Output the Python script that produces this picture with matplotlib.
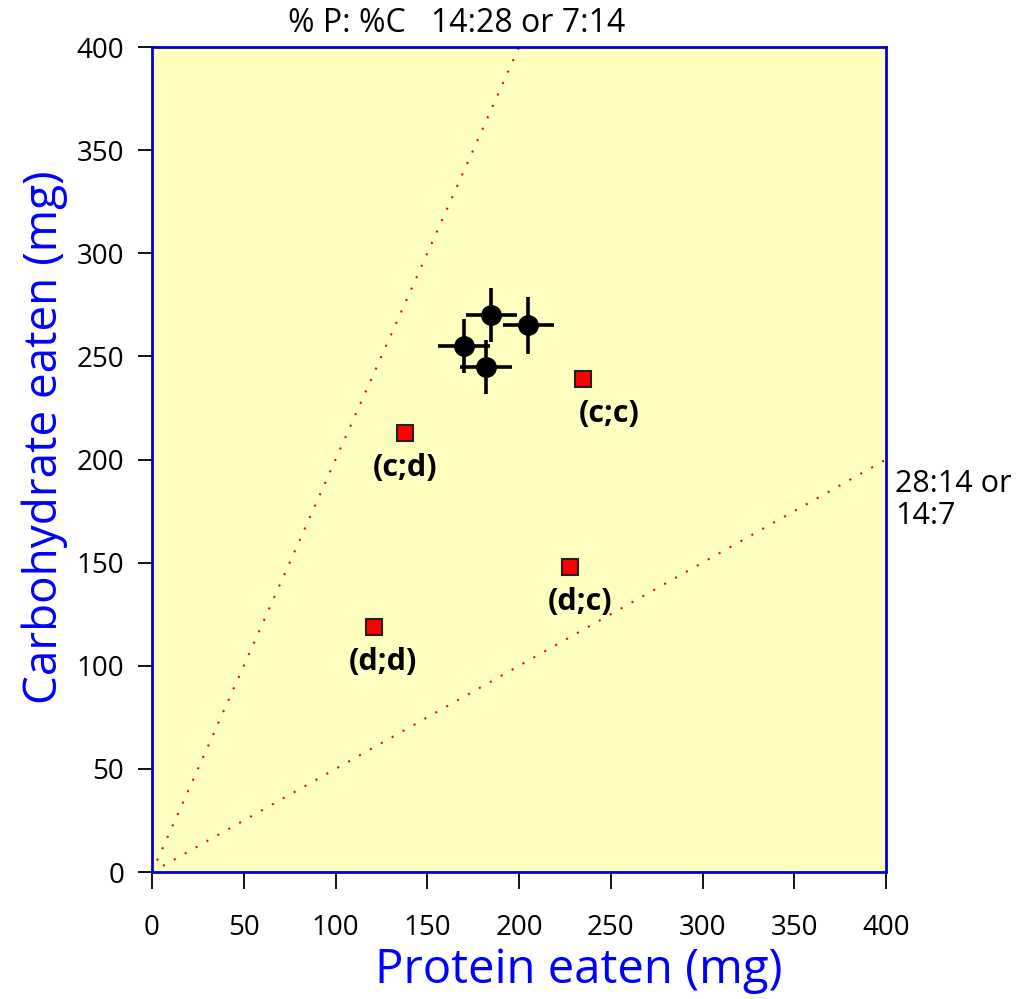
import matplotlib
matplotlib.use('Agg')
import matplotlib.pyplot as plt
import numpy as np

# mean intake (black circles) with error bars
mean_p = [185, 205, 170, 182]
mean_c = [270, 265, 255, 245]
err_p = [14, 14, 14, 14]
err_c = [13, 14, 13, 13]

# single-diet groups (red squares)
grp_names = ['(c;c)', '(c;d)', '(d;c)', '(d;d)']
grp_p = [235, 138, 228, 121]
grp_c = [239, 213, 148, 119]
lab_dx = [14, 0, 5, 5]   # label offsets in data units
lab_dy = [-17, -17, -17, -17]

# rails (P:C ratio lines)
rail_slopes = [2.0, 0.5]

ticks = np.arange(0, 401, 50)

fig = plt.figure(figsize=(10.3, 9.99), dpi=100)
ax = fig.add_axes([0.1476, 0.1271, 0.7126, 0.8258])
ax.set_facecolor('#ffffc0')

xr = np.linspace(0, 400, 200)
for s in rail_slopes:
    ax.plot(xr, s * xr, color='red', linestyle=(0, (1, 5)), linewidth=1.5, zorder=1)

ax.errorbar(mean_p, mean_c, xerr=err_p, yerr=err_c, fmt='o', color='black',
            markersize=14, elinewidth=2.6, capsize=0, zorder=3)
ax.plot(grp_p, grp_c, 's', color='red', markeredgecolor='#222222',
        markersize=11, markeredgewidth=1.5, linestyle='none', zorder=3)
for name, x, y, dx, dy in zip(grp_names, grp_p, grp_c, lab_dx, lab_dy):
    ax.text(x + dx, y + dy, name, ha='center', va='center', fontsize=22,
            fontweight='bold', family='Open Sans', color='black')

ax.set_xlim(0, 400)
ax.set_ylim(0, 400)
ax.set_xticks(ticks)
ax.set_yticks(ticks)
for lab in ax.get_xticklabels() + ax.get_yticklabels():
    lab.set_family('Open Sans')
ax.tick_params(direction='out', width=1.3, labelsize=20, colors='black')
ax.tick_params(axis='x', length=12, pad=18)
ax.tick_params(axis='y', length=10, pad=10)
for sp in ax.spines.values():
    sp.set_color('#0000cc')
    sp.set_linewidth(2)

ax.set_xlabel('Protein eaten (mg)', color='blue', fontsize=34, family='Open Sans', va='center')
ax.set_ylabel('Carbohydrate eaten (mg)', color='blue', fontsize=33, family='Open Sans', va='center')
ax.xaxis.set_label_coords(0.582, -0.119)
ax.yaxis.set_label_coords(-0.146, 0.527)

fig.text(0.443, 0.976, '% P: %C   14:28 or 7:14', ha='center', va='center',
         fontsize=23, family='Open Sans')
ax.text(1.012, 0.451, '28:14 or\n14:7', transform=ax.transAxes, ha='left', va='center',
        fontsize=22, family='Open Sans', linespacing=1.1)

fig.savefig('out.png', dpi=100)
